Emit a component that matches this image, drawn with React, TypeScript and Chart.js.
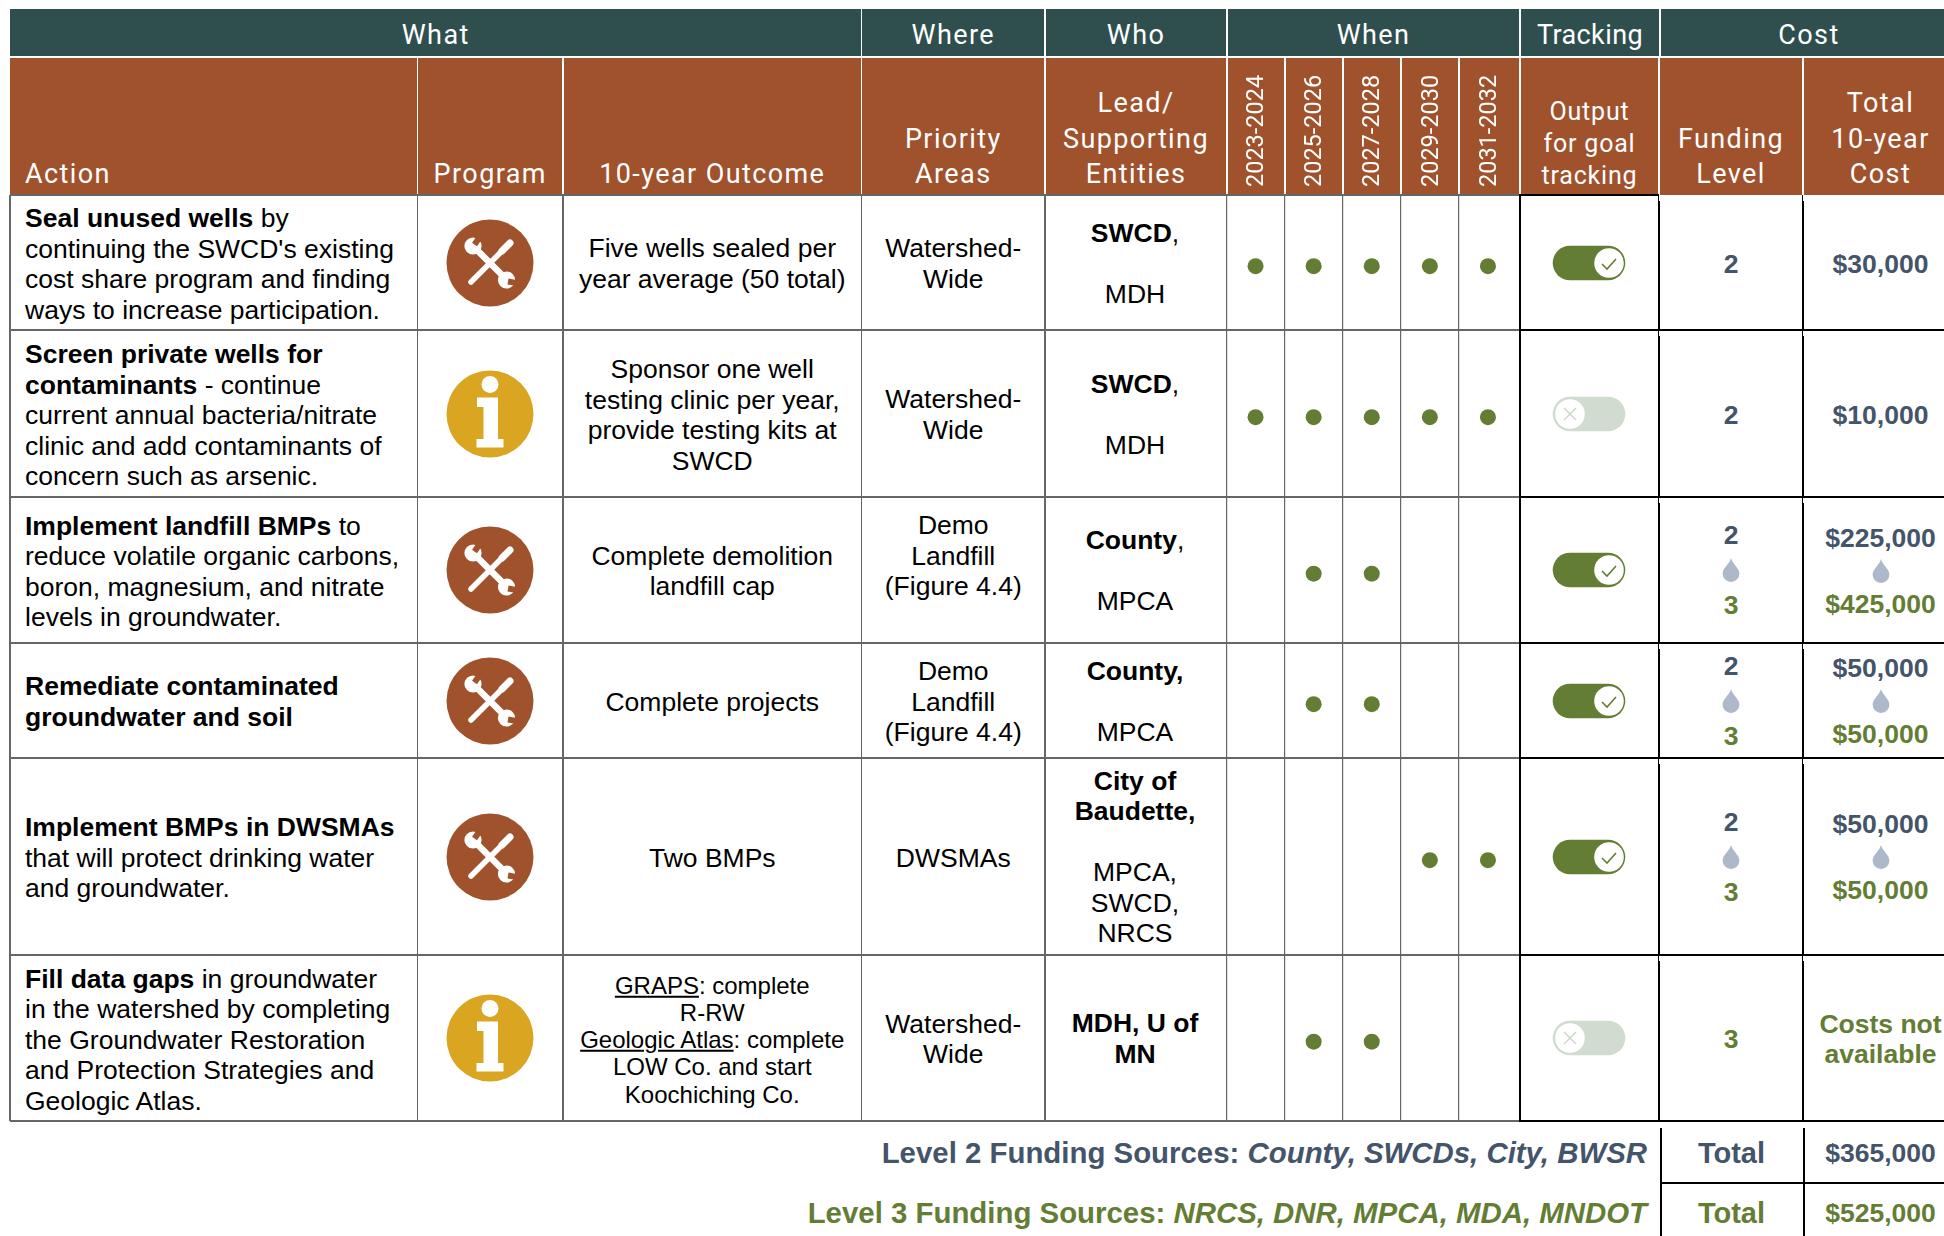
import React, { useEffect, useRef } from "react";
import { Chart, CategoryScale, ScatterController, PointElement } from "chart.js";

// ---------- data ----------
const periods = ["2023-2024", "2025-2026", "2027-2028", "2029-2030", "2031-2032"];
const actions = ["Seal unused wells", "Screen private wells", "Implement landfill BMPs", "Remediate groundwater and soil", "Implement BMPs in DWSMAs", "Fill data gaps"];
const scheduledPeriods = [
  ["2023-2024", "2025-2026", "2027-2028", "2029-2030", "2031-2032"],
  ["2023-2024", "2025-2026", "2027-2028", "2029-2030", "2031-2032"],
  ["2025-2026", "2027-2028"],
  ["2025-2026", "2027-2028"],
  ["2029-2030", "2031-2032"],
  ["2025-2026", "2027-2028"],
];
const actionLines = [
  ["**Seal unused wells** by", "continuing the SWCD's existing", "cost share program and finding", "ways to increase participation."],
  ["**Screen private wells for**", "**contaminants** - continue", "current annual bacteria/nitrate", "clinic and add contaminants of", "concern such as arsenic."],
  ["**Implement landfill BMPs** to", "reduce volatile organic carbons,", "boron, magnesium, and nitrate", "levels in groundwater."],
  ["**Remediate contaminated**", "**groundwater and soil**"],
  ["**Implement BMPs in DWSMAs**", "that will protect drinking water", "and groundwater."],
  ["**Fill data gaps** in groundwater", "in the watershed by completing", "the Groundwater Restoration", "and Protection Strategies and", "Geologic Atlas."],
];
const programs = ["tools", "info", "tools", "tools", "tools", "info"];
const outcomeLines = [
  ["Five wells sealed per", "year average (50 total)"],
  ["Sponsor one well", "testing clinic per year,", "provide testing kits at", "SWCD"],
  ["Complete demolition", "landfill cap"],
  ["Complete projects"],
  ["Two BMPs"],
  ["__GRAPS__: complete", "R-RW", "__Geologic Atlas__: complete", "LOW Co. and start", "Koochiching Co."],
];
const whereLines = [
  ["Watershed-", "Wide"],
  ["Watershed-", "Wide"],
  ["Demo", "Landfill", "(Figure 4.4)"],
  ["Demo", "Landfill", "(Figure 4.4)"],
  ["DWSMAs"],
  ["Watershed-", "Wide"],
];
const whoLines = [
  ["**SWCD**,", "", "MDH"],
  ["**SWCD**,", "", "MDH"],
  ["**County**,", "", "MPCA"],
  ["**County,**", "", "MPCA"],
  ["**City of**", "**Baudette,**", "", "MPCA,", "SWCD,", "NRCS"],
  ["**MDH, U of**", "**MN**"],
];
const tracked = [true, false, true, true, true, false];
const fundingLevels = [["2"], ["2"], ["2", "3"], ["2", "3"], ["2", "3"], ["3"]];
const costs = [["$30,000"], ["$10,000"], ["$225,000", "$425,000"], ["$50,000", "$50,000"], ["$50,000", "$50,000"], [null, "Costs not", "available"]];
const groupHeaders = ["What", "Where", "Who", "When", "Tracking", "Cost"];
const level2Label = "Level 2 Funding Sources: ";
const level2Sources = "County, SWCDs, City, BWSR";
const level3Label = "Level 3 Funding Sources: ";
const level3Sources = "NRCS, DNR, MPCA, MDA, MNDOT";
const level2Total = "$365,000";
const level3Total = "$525,000";

// ---------- layout ----------
const rowEdges = [195, 330, 497, 643, 758, 955, 1121];
const colEdges = [10, 417.5, 563, 861.5, 1045, 1227, 1285, 1343, 1401, 1459, 1520, 1659, 1803, 1958];
const groupEdges = [10, 861.5, 1045, 1227, 1520, 1660, 1958];
const TEAL = "#2F4F4F", BROWN = "#A0522D", GOLD = "#DAA520", SLATE = "#44546A", GREEN = "#647D35", DROP = "#ADB9CA", GRID = "#666666";
const HEAD_FONT = "Roboto, sans-serif";
const BODY_FONT = "'Liberation Sans', Arial, sans-serif";
const BODY_SIZE = 26.5;
const rowCenter = (i: number) => (rowEdges[i] + rowEdges[i + 1]) / 2;

// y axis: a category scale whose rows follow the table's uneven row heights
class TableRowScale extends CategoryScale {
  static id = "tableRow";
  static defaults = CategoryScale.defaults;
  getPixelForValue(value: any) {
    const i = typeof value === "number" ? value : this.parse(value);
    const total = rowEdges[rowEdges.length - 1] - rowEdges[0];
    const center = (rowEdges[i] + rowEdges[i + 1]) / 2 - rowEdges[0] + 3.7;
    return this.top + (center / total) * this.height;
  }
}
Chart.register(CategoryScale, ScatterController, PointElement, TableRowScale);

function Rich({ text }: { text: string }) {
  const parts = text.split(/(\*\*.*?\*\*|__.*?__)/).filter(Boolean);
  return (
    <>
      {parts.map((p, i) =>
        p.startsWith("**") ? <b key={i}>{p.slice(2, -2)}</b> : p.startsWith("__") ? <u key={i}>{p.slice(2, -2)}</u> : <span key={i}>{p}</span>
      )}
    </>
  );
}

function Block({ lines, left, width, cy, size = BODY_SIZE, lh = 30.6, align = "center", color = "#000", bold = false }: any) {
  return (
    <div style={{ position: "absolute", left, width, top: cy, transform: "translateY(-50%)", textAlign: align, font: `${bold ? "bold " : ""}${size}px/${lh}px ${BODY_FONT}`, color, whiteSpace: "nowrap" }}>
      {lines.map((l: string, i: number) => (
        <div key={i} style={{ height: lh }}>
          <Rich text={l} />
        </div>
      ))}
    </div>
  );
}

function Head({ lines, a, b, bottom = 1043.5, size = 27, lh = 35.5, spacing = 1.4 }: any) {
  return (
    <div style={{ position: "absolute", left: a, width: b - a, bottom, textAlign: "center", font: `${size}px/${lh}px ${HEAD_FONT}`, letterSpacing: spacing, color: "#fff", whiteSpace: "nowrap" }}>
      {lines.map((l: string, i: number) => (
        <div key={i}>{l}</div>
      ))}
    </div>
  );
}

const rect = (left: number, top: number, width: number, height: number, background: string, key?: any) => (
  <div key={key} style={{ position: "absolute", left, top, width, height, background }} />
);

function ToolsIcon({ cx, cy }: any) {
  return (
    <svg style={{ position: "absolute", left: cx - 44, top: cy - 44 }} width={88} height={88} viewBox="-44 -44 88 88">
      <circle r={43.5} fill={BROWN} />
      <line x1={-19} y1={19} x2={18} y2={-18} stroke="#fff" strokeWidth={5.5} strokeLinecap="round" />
      <line x1={12} y1={-12} x2={20} y2={-20} stroke="#fff" strokeWidth={7} strokeLinecap="round" />
      <line x1={-13} y1={-13} x2={13} y2={13} stroke="#fff" strokeWidth={6.5} />
      <circle cx={-17} cy={-17} r={8.6} fill="#fff" />
      <rect x={-3} y={-11} width={6} height={11} fill={BROWN} transform="translate(-15.5,-18.5) rotate(35)" />
      <circle cx={16.5} cy={17} r={8.6} fill="#fff" />
      <rect x={-3} y={-11} width={6} height={11} fill={BROWN} transform="translate(18,18.5) rotate(100)" />
    </svg>
  );
}

function InfoIcon({ cx, cy }: any) {
  return (
    <svg style={{ position: "absolute", left: cx - 44, top: cy - 44 }} width={88} height={88} viewBox="-44 -44 88 88">
      <circle r={43.5} fill={GOLD} />
      <circle cy={-29.5} r={8.5} fill="#fff" />
      <path d="M-13,-16.5 H8 V25 H13.5 V33.5 H-13.5 V25 H-6.5 V-7 H-13 Z" fill="#fff" />
    </svg>
  );
}

function Toggle({ on, cy }: any) {
  const cx = 1589;
  return (
    <svg style={{ position: "absolute", left: cx - 38, top: cy - 20 }} width={76} height={40} viewBox="-38 -20 76 40">
      <rect x={-36.3} y={-17.3} width={72.6} height={34.6} rx={17.3} fill={on ? GREEN : "#D1DCD1"} />
      {on ? (
        <g>
          <circle cx={20} cy={0} r={14.8} fill="#fff" />
          <polyline points="13,1 18,6 27,-4" fill="none" stroke={GREEN} strokeWidth={1.6} />
        </g>
      ) : (
        <g>
          <circle cx={-19} cy={0} r={14.8} fill="#fff" />
          <path d="M-25,-6 L-13,6 M-13,-6 L-25,6" stroke="#CDD3CC" strokeWidth={1.4} />
        </g>
      )}
    </svg>
  );
}

function Drop({ cx, cy }: any) {
  return (
    <svg style={{ position: "absolute", left: cx - 9, top: cy - 12 }} width={18} height={24} viewBox="-9 -12 18 24">
      <path d="M0,-12 C1.5,-6 8.4,-2 8.4,3.5 A8.4,8.4 0 0 1 -8.4,3.5 C-8.4,-2 -1.5,-6 0,-12 Z" fill={DROP} />
    </svg>
  );
}

function Stack({ values, cx, w, cy, gap }: any) {
  const left = cx - w / 2;
  if (values.length === 1) {
    return <Block lines={[values[0]]} left={left} width={w} cy={cy} bold color={values[0] === "3" ? GREEN : SLATE} />;
  }
  return (
    <>
      <Block lines={[values[0]]} left={left} width={w} cy={cy - gap} bold color={SLATE} />
      <Drop cx={cx} cy={cy} />
      <Block lines={[values[1]]} left={left} width={w} cy={cy + gap} bold color={GREEN} />
    </>
  );
}

function ScheduleChart() {
  const ref = useRef<HTMLCanvasElement>(null);
  useEffect(() => {
    const points = scheduledPeriods.flatMap((list, i) => list.map((p) => ({ x: p, y: actions[i] })));
    const chart = new Chart(ref.current as HTMLCanvasElement, {
      type: "scatter",
      data: {
        xLabels: periods,
        yLabels: actions,
        datasets: [{ data: points as any, backgroundColor: GREEN, borderColor: GREEN, pointRadius: 8, pointHoverRadius: 8, pointBorderWidth: 0 }],
      },
      options: {
        animation: false,
        responsive: false,
        events: [],
        layout: { autoPadding: false, padding: { left: 4.5, right: 5, top: 0, bottom: 2 } },
        plugins: { legend: { display: false }, tooltip: { enabled: false } },
        scales: {
          x: {
            type: "category",
            position: "top",
            offset: true,
            afterFit: (s: any) => { s.height = 138; s.paddingLeft = 0; s.paddingRight = 0; },
            border: { display: false },
            grid: { offset: true, drawTicks: false, lineWidth: 1.2, color: (c: any) => (c.tick ? GRID : "transparent") },
            ticks: { autoSkip: false, minRotation: 90, maxRotation: 90, padding: 8, labelOffset: 30, color: "#fff", font: { family: "Roboto", size: 23.5 } },
          },
          y: { type: "tableRow", display: false } as any,
        },
      } as any,
    });
    return () => chart.destroy();
  }, []);
  return <canvas ref={ref} width={300} height={1066} style={{ position: "absolute", left: 1222, top: 57, width: 300, height: 1066 }} />;
}

export default function App() {
  const gridTop = rowEdges[0], gridBottom = rowEdges[rowEdges.length - 1];
  return (
    <div style={{ position: "absolute", left: 0, top: 0, width: 1944, height: 1236, overflow: "hidden", background: "#fff" }}>
      {/* header bands */}
      {rect(10, 9, 1934, 47, TEAL)}
      {rect(10, 57.5, 1934, 137.5, BROWN)}
      {groupEdges.slice(1, -1).map((x, i) => rect(x - 0.75, 9, 1.5, 47, "#fff", "g" + i))}
      {colEdges.slice(1, -1).map((x, i) => rect(x - 0.75, 57, 1.5, 138, "#fff", "c" + i))}
      {groupHeaders.map((g, i) => (
        <Head key={g} lines={[g]} a={groupEdges[i]} b={groupEdges[i + 1]} bottom={1236 - 53} spacing={g === "Tracking" ? 0.4 : 1.4} />
      ))}
      <div style={{ position: "absolute", left: 25, bottom: 1043.5, font: `27px/35.5px ${HEAD_FONT}`, letterSpacing: 1.4, color: "#fff" }}>Action</div>
      <Head lines={["Program"]} a={417.5} b={563} />
      <Head lines={["10-year Outcome"]} a={563} b={861.5} />
      <Head lines={["Priority", "Areas"]} a={861.5} b={1045} />
      <Head lines={["Lead/", "Supporting", "Entities"]} a={1045} b={1227} />
      <Head lines={["Output", "for goal", "tracking"]} a={1520} b={1659} size={25} lh={32} bottom={1044.5} spacing={0.8} />
      <Head lines={["Funding", "Level"]} a={1659} b={1803} />
      <Head lines={["Total", "10-year", "Cost"]} a={1803} b={1958} />

      {/* grid lines */}
      {rowEdges.map((y, i) => rect(10, y - 0.6, 1510, 1.3, GRID, "r" + i))}
      {[10, 417.5, 563, 861.5, 1045].map((x, i) => rect(x - 0.6, gridTop, 1.2, gridBottom - gridTop, GRID, "v" + i))}
      {rowEdges.map((y, i) => rect(1519, y - 1, i === 0 ? 140 : 425, 2, "#000", "rb" + i))}
      {rect(1519, gridTop, 2, gridBottom - gridTop, "#000")}
      {[1658.7, 1802.7].map((x) =>
        rowEdges.slice(0, -1).map((y, i) => (
          <React.Fragment key={x + "-" + i}>
            {rect(x - 0.5, y, 1, 6, "#000")}
            {rect(x - 1, y + 6, 2, rowEdges[i + 1] - y - 6, "#000")}
          </React.Fragment>
        ))
      )}

      {/* rows */}
      {actionLines.map((lines, i) => (
        <React.Fragment key={i}>
          <Block lines={lines} left={25} width={390} cy={rowCenter(i) + 1.5} align="left" />
          {programs[i] === "tools" ? <ToolsIcon cx={490} cy={rowCenter(i)} /> : <InfoIcon cx={490} cy={rowCenter(i)} />}
          <Block lines={outcomeLines[i]} left={563} width={298.5} cy={rowCenter(i) + 1.5} {...(i === 5 ? { size: 24, lh: 27.3 } : {})} />
          <Block lines={whereLines[i]} left={861.5} width={183.5} cy={rowCenter(i) + (i === 2 ? -14 : 1.5)} />
          <Block lines={whoLines[i]} left={1044} width={182} cy={rowCenter(i) + 1} />
          <Toggle on={tracked[i]} cy={rowCenter(i)} />
          <Stack values={fundingLevels[i]} cx={1731} w={140} cy={rowCenter(i) + (i === 5 || i < 2 ? 1 : 0)} gap={35} />
          {costs[i][0] === null ? (
            <Block lines={costs[i].slice(1)} left={1803} width={155} cy={rowCenter(i) + 1.5} bold color={GREEN} />
          ) : (
            <Stack values={costs[i]} cx={1880.5} w={155} cy={rowCenter(i) + (i < 2 ? 1 : 0.5)} gap={33} />
          )}
        </React.Fragment>
      ))}

      <ScheduleChart />

      {/* footer */}
      <div style={{ position: "absolute", right: 1944 - 1647, top: 1153, transform: "translateY(-50%)", font: `bold 29.4px/34px ${BODY_FONT}`, color: SLATE, whiteSpace: "nowrap" }}>
        {level2Label}<i>{level2Sources}</i>
      </div>
      <div style={{ position: "absolute", right: 1944 - 1647, top: 1213, transform: "translateY(-50%)", font: `bold 29.4px/34px ${BODY_FONT}`, color: GREEN, whiteSpace: "nowrap" }}>
        {level3Label}<i>{level3Sources}</i>
      </div>
      {rect(1659.5, 1128, 2, 108, "#000")}
      {rect(1803, 1128, 2, 108, "#000")}
      {rect(1660, 1182, 284, 2, "#000")}
      <Block lines={["Total"]} left={1660} width={143} cy={1153} size={29} lh={34} bold color={SLATE} />
      <Block lines={["Total"]} left={1660} width={143} cy={1213} size={29} lh={34} bold color={GREEN} />
      <Block lines={[level2Total]} left={1803} width={155} cy={1153} bold color={SLATE} />
      <Block lines={[level3Total]} left={1803} width={155} cy={1213} bold color={GREEN} />
    </div>
  );
}
